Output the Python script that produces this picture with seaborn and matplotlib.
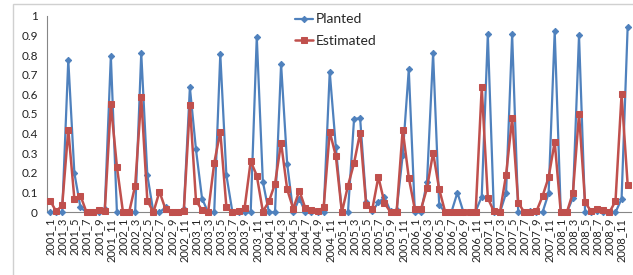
import numpy as np
import pandas as pd
import matplotlib
matplotlib.use("Agg")
import matplotlib.pyplot as plt
import seaborn as sns
from matplotlib.patches import Rectangle

# ---------- DATA ----------
years = list(range(2001, 2009))
months = list(range(1, 13))
periods = [f"{y}_{m}" for y in years for m in months]

planted = [
    0.00, 0.00, 0.00, 0.775, 0.20, 0.025, 0.00, 0.00, 0.00, 0.015, 0.795, 0.00,   # 2001
    0.00, 0.00, 0.00, 0.81, 0.19, 0.00, 0.00, 0.025, 0.00, 0.00, 0.015, 0.635,    # 2002
    0.32, 0.07, 0.00, 0.00, 0.805, 0.19, 0.00, 0.00, 0.00, 0.00, 0.893, 0.156,    # 2003
    0.00, 0.00, 0.754, 0.247, 0.00, 0.07, 0.00, 0.00, 0.00, 0.00, 0.715, 0.334,   # 2004
    0.00, 0.00, 0.475, 0.478, 0.05, 0.005, 0.05, 0.076, 0.005, 0.01, 0.29, 0.727, # 2005
    0.00, 0.00, 0.155, 0.808, 0.037, 0.00, 0.00, 0.10, 0.00, 0.00, 0.005, 0.08,   # 2006
    0.905, 0.00, 0.00, 0.097, 0.905, 0.00, 0.00, 0.005, 0.00, 0.00, 0.097, 0.92,  # 2007
    0.00, 0.00, 0.074, 0.90, 0.00, 0.00, 0.005, 0.00, 0.00, 0.00, 0.068, 0.944,   # 2008
]
estimated = [
    0.06, 0.005, 0.035, 0.42, 0.068, 0.085, 0.00, 0.00, 0.012, 0.005, 0.55, 0.232,  # 2001
    0.00, 0.00, 0.135, 0.585, 0.06, 0.00, 0.105, 0.015, 0.00, 0.00, 0.005, 0.545,   # 2002
    0.06, 0.01, 0.00, 0.25, 0.41, 0.028, 0.00, 0.005, 0.022, 0.26, 0.187, 0.004,    # 2003
    0.055, 0.145, 0.354, 0.117, 0.018, 0.11, 0.02, 0.01, 0.005, 0.025, 0.41, 0.287, # 2004
    0.00, 0.135, 0.25, 0.405, 0.035, 0.015, 0.18, 0.048, 0.00, 0.00, 0.42, 0.176,   # 2005
    0.015, 0.015, 0.123, 0.303, 0.118, 0.00, 0.00, 0.00, 0.00, 0.00, 0.00, 0.635,   # 2006
    0.072, 0.005, 0.00, 0.19, 0.478, 0.049, 0.00, 0.00, 0.005, 0.082, 0.178, 0.358, # 2007
    0.00, 0.00, 0.10, 0.50, 0.05, 0.005, 0.015, 0.01, 0.00, 0.057, 0.60, 0.14,      # 2008
]

df = pd.DataFrame({"idx": range(len(periods)), "Planted": planted, "Estimated": estimated})

# ---------- PLOT ----------
sns.set_style("white")
plt.rcParams["font.family"] = ["Lato", "DejaVu Sans"]

fig = plt.figure(figsize=(6.33, 2.75), dpi=100)
ax = fig.add_axes([47 / 633, 1 - 212.3 / 275, (630.7 - 47) / 633, (212.3 - 15.7) / 275])

blue = "#4F81BD"
red = "#C0504D"
sns.lineplot(data=df, x="idx", y="Planted", ax=ax, color=blue, lw=1.6,
             marker="D", markersize=3.2, markeredgecolor=blue, label="Planted",
             clip_on=False, zorder=3)
sns.lineplot(data=df, x="idx", y="Estimated", ax=ax, color=red, lw=1.8,
             marker="s", markersize=4.5, markeredgecolor=red, label="Estimated",
             clip_on=False, zorder=4)

ax.set_xlim(-0.5, len(periods) - 0.5)
ax.set_ylim(0, 1)
ax.set_yticks(np.arange(0, 1.01, 0.1))
ax.set_yticklabels(["0"] + [f"{v:.1f}" for v in np.arange(0.1, 0.95, 0.1)] + ["1"], fontsize=8.5)

ax.set_xticks(range(0, len(periods), 2))
ax.set_xticklabels(periods[::2], rotation=90, fontsize=8)
ax.set_xticks(np.arange(-0.5, len(periods), 1), minor=True)
ax.tick_params(axis="x", which="major", length=0, pad=4)
ax.tick_params(axis="x", which="minor", length=3.5, width=0.6, color="#868686", direction="out")
ax.tick_params(axis="y", length=3.5, width=0.6, color="#868686", direction="out", pad=3)
for lab in ax.get_xticklabels() + ax.get_yticklabels():
    lab.set_color("#222222")

ax.set_xlabel("")
ax.set_ylabel("")
for s in ["top", "right"]:
    ax.spines[s].set_visible(False)
for s in ["left", "bottom"]:
    ax.spines[s].set_color("#868686")
    ax.spines[s].set_linewidth(0.8)
    ax.spines[s].set_zorder(1)

leg = ax.legend(loc="upper left", bbox_to_anchor=(0.404, 1.075), frameon=False,
                fontsize=10, handlelength=1.3, handletextpad=0.2, labelspacing=0.7)

# chart area border
fig.patches.append(Rectangle((13 / 633, -0.05), 1.2, 1 - 4 / 275 + 0.05, transform=fig.transFigure,
                             fill=False, edgecolor="#D0D0D0", lw=1))

plt.savefig("out.png", dpi=100)
